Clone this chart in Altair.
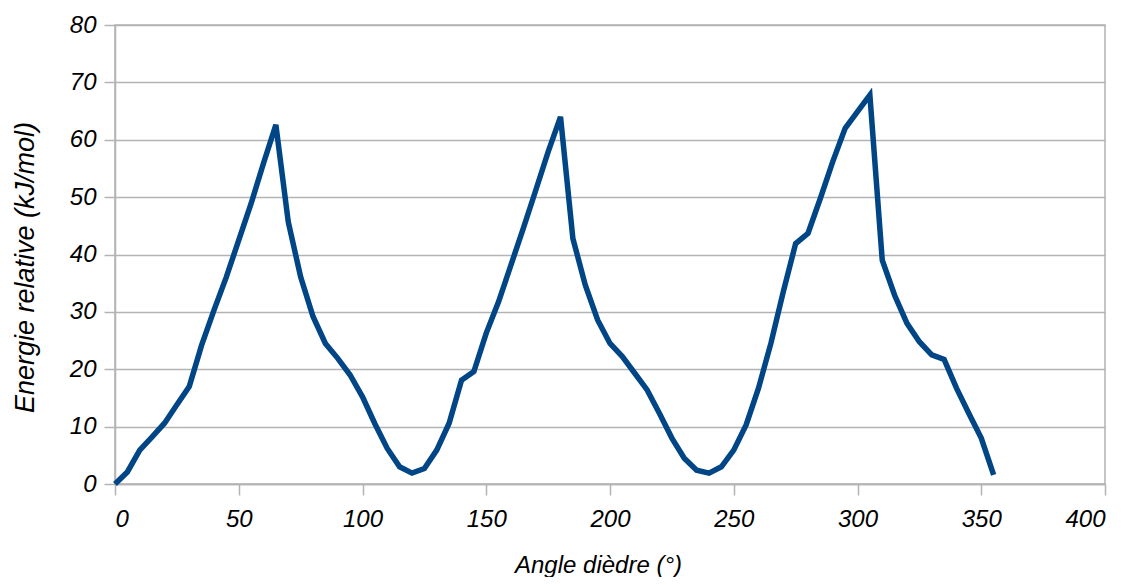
import altair as alt
import pandas as pd

angles = list(range(0, 360, 5))
energies = [
    0.0, 2.1, 5.9, 8.2, 10.6, 13.8, 17.0, 24.2, 30.3, 36.1,
    42.5, 48.9, 55.9, 62.6, 45.7, 36.1, 29.2, 24.5, 21.9, 19.0,
    15.2, 10.5, 6.2, 3.0, 1.9, 2.7, 5.9, 10.6, 18.1, 19.6,
    26.3, 31.8, 38.2, 44.6, 51.2, 57.9, 64.0, 42.8, 34.7, 28.6,
    24.5, 22.2, 19.3, 16.4, 12.3, 8.0, 4.5, 2.4, 1.9, 3.0,
    5.9, 10.3, 16.7, 24.5, 33.5, 41.9, 43.7, 49.8, 56.2, 62.0,
    64.9, 67.8, 39.0, 32.9, 28.0, 24.8, 22.5, 21.7, 16.7, 12.3,
    8.0, 1.6,
]
x_ticks = [0, 50, 100, 150, 200, 250, 300, 350, 400]
y_ticks = [0, 10, 20, 30, 40, 50, 60, 70, 80]

df = pd.DataFrame({"angle": angles, "energie": energies})

FONT = "Liberation Sans"

chart = (
    alt.Chart(df)
    .mark_line(color="#004586", strokeWidth=5.5, strokeJoin="miter")
    .encode(
        x=alt.X(
            "angle:Q",
            scale=alt.Scale(domain=[0, 400], nice=False),
            axis=alt.Axis(
                values=x_ticks,
                title="Angle dièdre (°)",
                grid=False,
                tickSize=11,
                labelPadding=12,
                titleX=483,
                titleY=88,
                titleFontSize=24,
                titleBaseline="alphabetic",
                titleAlign="center",
            ),
        ),
        y=alt.Y(
            "energie:Q",
            scale=alt.Scale(domain=[0, 80], nice=False),
            axis=alt.Axis(
                values=y_ticks,
                title="Energie relative (kJ/mol)",
                grid=True,
                tickSize=11,
                labelPadding=8,
                titleAngle=-90,
                titleX=-82,
                titleY=242,
                titleFontSize=27,
                titleBaseline="alphabetic",
                titleAlign="center",
            ),
        ),
    )
    .properties(
        width=990,
        height=459,
        autosize=alt.AutoSizeParams(type="none"),
        padding={"left": 107, "top": 17, "right": 15, "bottom": 93},
    )
    .configure_view(stroke="#b3b3b3", strokeWidth=1.5)
    .configure_axis(
        domainColor="#b3b3b3",
        domainWidth=1.5,
        tickColor="#b3b3b3",
        tickWidth=1.5,
        gridColor="#b3b3b3",
        gridWidth=1.5,
        labelFont=FONT,
        labelFontSize=24,
        labelFontStyle="italic",
        labelColor="#000000",
        titleFont=FONT,
        titleFontStyle="italic",
        titleFontWeight="normal",
        titleColor="#000000",
    )
)

chart.save("out.html", embed_options={"renderer": "svg", "actions": False})
